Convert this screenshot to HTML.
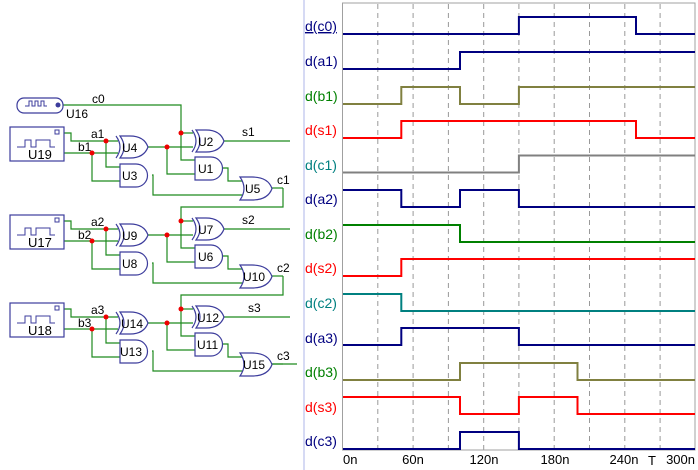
<!DOCTYPE html>
<html><head><meta charset="utf-8"><style>
html,body{margin:0;padding:0;background:#fff;}
svg{display:block;font-family:"Liberation Sans",sans-serif;}
</style></head><body>
<svg width="698" height="470" viewBox="0 0 698 470" xmlns="http://www.w3.org/2000/svg">
<defs>
<g id="xor"><path d="M4 0 H14 Q28 0 32 11 Q28 22 14 22 H4 Q12 11 4 0Z" fill="#fff" stroke="#3c3c9c" stroke-width="1.2"/><path d="M0 0 Q8 11 0 22" fill="none" stroke="#3c3c9c" stroke-width="1.2"/></g>
<g id="and"><path d="M0 0 H16 A11.5 11.5 0 0 1 16 23 H0Z" fill="#fff" stroke="#3c3c9c" stroke-width="1.2"/></g>
<g id="or"><path d="M0 0 H12 Q28 0 32 11.5 Q28 23 12 23 H0 Q8 11.5 0 0Z" fill="#fff" stroke="#3c3c9c" stroke-width="1.2"/></g>
<g id="blk">
<g fill="none" stroke="#1e8a1e" stroke-width="1.2">
<path d="M64 133 H71 V141 H118"/><path d="M64 153 H118"/>
<path d="M106 141 V167 H120"/><path d="M92 153 V181 H120"/>
<path d="M148 147 H193"/><path d="M167 147 V174 H195"/>
<path d="M181 133 H193"/><path d="M181 133 V160 H195"/>
<path d="M222 168 H228 V181 H243"/><path d="M152 175 H153 V195 H243"/>
<path d="M224 141 H290"/><path d="M272 188 H283"/>
</g>
<rect x="10" y="127" width="54" height="34" fill="#fff" stroke="#3c3c9c" stroke-width="1.2"/>
<rect x="55" y="130" width="4" height="4" fill="none" stroke="#3c3c9c"/>
<path d="M17 147 H25 V140 H31 V147 H36 V140 H50 V147 H55" fill="none" stroke="#3c3c9c"/>
<use href="#xor" x="116" y="136"/><use href="#and" x="120" y="164"/>
<use href="#xor" x="192" y="130"/><use href="#and" x="195" y="157"/>
<use href="#or" x="240" y="177"/>
<g fill="#e00"><circle cx="106" cy="141" r="2.5"/><circle cx="92" cy="153" r="2.5"/><circle cx="167" cy="147" r="2.5"/><circle cx="181" cy="133" r="2.5"/></g>
</g>
</defs>
<g fill="none" stroke="#1e8a1e" stroke-width="1.2">
<path d="M63 105 H181 V133"/>
<path d="M283 188 V207 H181 V221"/>
<path d="M283 276 V295 H181 V309"/>
<path d="M272 364 H297"/>
</g>
<rect x="17" y="98" width="46" height="15" rx="7" fill="#fff" stroke="#3c3c9c" stroke-width="1.2"/>
<path d="M25 106 H29 V101 H32 V106 H35 V101 H38 V106 H41 V101 H44 V106 H47" fill="none" stroke="#3c3c9c"/>
<circle cx="58" cy="105" r="2.5" fill="#3c3c9c"/>
<use href="#blk"/>
<use href="#blk" y="88"/>
<use href="#blk" y="176"/>
<g font-size="12" fill="#000">
<text x="66" y="118">U16</text><text x="92" y="103">c0</text>
<text x="28" y="159" font-size="13">U19</text><text x="28" y="247" font-size="13">U17</text><text x="28" y="335" font-size="13">U18</text>
<text x="91" y="138">a1</text><text x="78" y="151">b1</text>
<text x="91" y="226">a2</text><text x="78" y="239">b2</text>
<text x="91" y="314">a3</text><text x="78" y="327">b3</text>
<text x="122" y="152">U4</text><text x="122" y="180">U3</text><text x="198" y="146">U2</text><text x="198" y="173">U1</text><text x="245" y="193">U5</text>
<text x="122" y="240">U9</text><text x="122" y="268">U8</text><text x="198" y="234">U7</text><text x="198" y="261">U6</text><text x="243" y="281">U10</text>
<text x="121" y="328">U14</text><text x="120" y="356">U13</text><text x="197" y="322">U12</text><text x="197" y="349">U11</text><text x="243" y="369">U15</text>
<text x="242" y="136">s1</text><text x="277" y="184">c1</text>
<text x="242" y="224">s2</text><text x="277" y="272">c2</text>
<text x="248" y="312">s3</text><text x="277" y="360">c3</text>
</g>
<line x1="304" y1="0" x2="304" y2="470" stroke="#c8cef0" stroke-width="1.5"/>
<g stroke="#999" stroke-dasharray="5,4" stroke-width="1">
<line x1="377.8" y1="4" x2="377.8" y2="450"/><line x1="413.1" y1="4" x2="413.1" y2="450"/>
<line x1="448.4" y1="4" x2="448.4" y2="450"/><line x1="483.7" y1="4" x2="483.7" y2="450"/>
<line x1="518.9" y1="4" x2="518.9" y2="450"/><line x1="554.2" y1="4" x2="554.2" y2="450"/>
<line x1="589.5" y1="4" x2="589.5" y2="450"/><line x1="624.8" y1="4" x2="624.8" y2="450"/>
<line x1="660.1" y1="4" x2="660.1" y2="450"/>
</g>
<rect x="342.5" y="3" width="352.5" height="447" fill="none" stroke="#a0a0a0"/>
<g fill="none" stroke-width="2">
<path stroke="#000080" d="M343 34 H518.9 V17 H636 V34 H695"/>
<path stroke="#000080" d="M343 69 H460 V52 H695"/>
<path stroke="#808040" d="M343 104 H401.3 V87 H460 V104 H518.9 V87 H695"/>
<path stroke="#ff0000" d="M343 138 H401.3 V121 H636 V138 H695"/>
<path stroke="#808080" d="M343 172.5 H518.9 V155.5 H695"/>
<path stroke="#000080" d="M343 190 H401.3 V207 H460 V190 H518.9 V207 H695"/>
<path stroke="#008000" d="M343 225 H460 V242 H695"/>
<path stroke="#ff0000" d="M343 276 H401.3 V259 H695"/>
<path stroke="#008080" d="M343 294 H401.3 V311 H695"/>
<path stroke="#000080" d="M343 345 H401.3 V328 H518.9 V345 H695"/>
<path stroke="#808040" d="M343 380 H460 V363 H577.5 V380 H695"/>
<path stroke="#ff0000" d="M343 397 H460 V414 H518.9 V397 H577.5 V414 H695"/>
<path stroke="#000080" d="M343 449 H460 V432 H518.9 V449 H695"/>
</g>
<g font-size="14">
<text x="305" y="31" fill="#000080" text-decoration="underline">d(c0)</text>
<text x="305" y="66" fill="#000080">d(a1)</text>
<text x="305" y="101" fill="#008000">d(b1)</text>
<text x="305" y="135" fill="#ff0000">d(s1)</text>
<text x="305" y="170" fill="#008080">d(c1)</text>
<text x="305" y="204" fill="#000080">d(a2)</text>
<text x="305" y="239" fill="#008000">d(b2)</text>
<text x="305" y="273" fill="#ff0000">d(s2)</text>
<text x="305" y="308" fill="#008080">d(c2)</text>
<text x="305" y="343" fill="#000080">d(a3)</text>
<text x="305" y="377" fill="#008000">d(b3)</text>
<text x="305" y="412" fill="#ff0000">d(s3)</text>
<text x="305" y="446" fill="#000080">d(c3)</text>
</g>
<g font-size="13" fill="#000">
<text x="343" y="464">0n</text>
<text x="413" y="464" text-anchor="middle">60n</text>
<text x="484" y="464" text-anchor="middle">120n</text>
<text x="555" y="464" text-anchor="middle">180n</text>
<text x="624" y="464" text-anchor="middle">240n</text>
<text x="652" y="465" text-anchor="middle">T</text>
<text x="695" y="464" text-anchor="end">300n</text>
</g>
</svg>
</body></html>
